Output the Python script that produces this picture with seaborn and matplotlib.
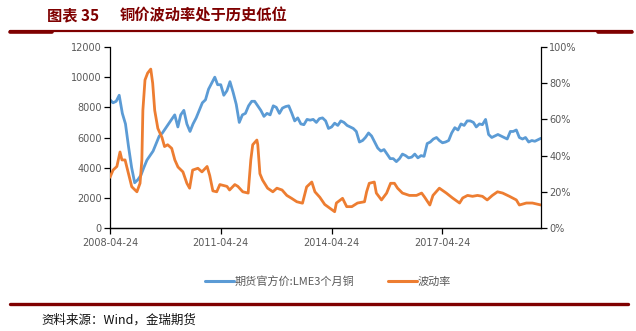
import pandas as pd
import matplotlib
matplotlib.use("Agg")
import matplotlib.pyplot as plt
import seaborn as sns
from matplotlib.lines import Line2D

sns.set_theme(style="white")
plt.rcParams['font.family'] = ['Noto Sans CJK SC', 'DejaVu Sans']

# LME 3-month copper, monthly from 2008-04-24 (USD/t)
copper_start = "2008-04-24"
copper_price = [
    8500, 8300, 8400, 8800, 7600, 6900, 5400, 4000, 3000,
    3200, 3500, 4000, 4500, 4800, 5100, 5600, 6100, 6300, 6600, 6900, 7200,
    7500, 6700, 7500, 7800, 6900, 6400, 6900, 7300, 7800, 8300, 8500, 9200,
    9600, 10000, 9500, 9500, 8800, 9100, 9700, 9000, 8200, 7000, 7500, 7600,
    8100, 8400, 8400, 8100, 7800, 7400, 7600, 7500, 8100, 8000, 7600, 7950,
    8050, 8100, 7650, 7100, 7300, 6900, 6850, 7200, 7150, 7200, 7000, 7250,
    7300, 7100, 6600, 6700, 6950, 6800, 7100, 7000, 6800, 6700, 6600, 6400,
    5700, 5800, 6000, 6300, 6100, 5700, 5300, 5100, 5200, 4900, 4600, 4600,
    4400, 4600, 4900, 4800, 4650, 4700, 4900, 4650, 4800, 4750, 5600, 5700,
    5900, 6000, 5800, 5650, 5700, 5800, 6300, 6650, 6500, 6900, 6800, 7100,
    7100, 7000, 6700, 6900, 6850, 7200, 6200, 6000, 6100, 6200, 6100, 6000,
    5900, 6400, 6400, 6500, 6000, 5900, 6000, 5700, 5800, 5750, 5850, 5950,
]

# Copper price volatility (%)
vol_dates = [
    "2008-04-24", "2008-05-24", "2008-07-01", "2008-08-01", "2008-08-20",
    "2008-09-20", "2008-10-15", "2008-11-25", "2009-01-15", "2009-02-15",
    "2009-03-05", "2009-03-15", "2009-04-05", "2009-05-01", "2009-06-01",
    "2009-06-20", "2009-07-10", "2009-08-10", "2009-09-20", "2009-10-15",
    "2009-11-15", "2009-12-25", "2010-01-25", "2010-02-25", "2010-04-15",
    "2010-05-24", "2010-06-20", "2010-07-20", "2010-09-10", "2010-10-20",
    "2010-12-10", "2011-01-05", "2011-02-05", "2011-03-15", "2011-04-15",
    "2011-06-24", "2011-07-20", "2011-09-10", "2011-10-10", "2011-11-28",
    "2012-01-20", "2012-02-15", "2012-03-05", "2012-04-15", "2012-04-24",
    "2012-05-15", "2012-06-10", "2012-07-30", "2012-09-20", "2012-10-30",
    "2012-12-20", "2013-02-05", "2013-03-24", "2013-05-15", "2013-07-10",
    "2013-08-20", "2013-10-10", "2013-11-10", "2013-12-28", "2014-02-15",
    "2014-04-05", "2014-05-24", "2014-06-10", "2014-08-10", "2014-09-20",
    "2014-11-10", "2015-01-05", "2015-03-15", "2015-04-05", "2015-05-01",
    "2015-06-20", "2015-07-10", "2015-08-30", "2015-10-20", "2015-11-28",
    "2016-01-05", "2016-02-05", "2016-03-24", "2016-06-01", "2016-08-10",
    "2016-09-30", "2016-10-30", "2016-12-20", "2017-01-20", "2017-03-24",
    "2017-06-01", "2017-08-01", "2017-10-10", "2017-11-10", "2017-12-28",
    "2018-02-15", "2018-04-05", "2018-05-24", "2018-07-10", "2018-08-30",
    "2018-10-20", "2018-12-10", "2019-02-15", "2019-04-24", "2019-05-24",
    "2019-08-01", "2019-09-30", "2019-12-24",
]
vol_pct = [
    28, 32, 34, 42, 37.6,
    37.6, 32, 22.8, 20, 24.7,
    37.6, 65, 81.8, 85.6, 87.8,
    80, 65, 55, 50, 45,
    46, 44, 37.6, 33.7, 31,
    24.7, 22, 32, 33, 31,
    34, 29, 20.5, 20, 24,
    23, 21, 24, 23, 20,
    19.3, 37.6, 46, 48.6, 46,
    30, 26.5, 22, 20, 22,
    21, 18, 16.4, 14.5, 13.7,
    22.7, 25.4, 20, 17, 13,
    11, 9, 13.8, 16.4, 11.8,
    11.8, 13.8, 14.5, 20, 24.7,
    25.4, 19.3, 15.5, 19.3, 24.7,
    24.7, 22, 19.3, 18, 18,
    19.3, 17, 12.7, 18, 22,
    19.3, 16.6, 13.8, 16.6, 18,
    17.5, 18, 17.5, 15.5, 18,
    20, 19.3, 17.5, 15.5, 12.7,
    13.8, 13.8, 12.7,
]

x_tick_dates = ["2008-04-24", "2011-04-24", "2014-04-24", "2017-04-24"]
left_ticks = [0, 2000, 4000, 6000, 8000, 10000, 12000]
right_ticks = [0, 20, 40, 60, 80, 100]

title_head = "图表 35"
title_body = "铜价波动率处于历史低位"
label_copper = "期货官方价:LME3个月铜"
label_vol = "波动率"
source_text = "资料来源：Wind，金瑞期货"

BLUE = "#5B9BD5"
ORANGE = "#ED7D31"
DARKRED = "#7F0000"
GREY = "#595959"

copper_dates = pd.date_range(start=copper_start, periods=len(copper_price),
                             freq=pd.DateOffset(months=1))
df_cu = pd.DataFrame({"date": copper_dates, "price": copper_price})
df_vol = pd.DataFrame({"date": pd.to_datetime(vol_dates), "vol": vol_pct})

W, H = 636, 331
fig = plt.figure(figsize=(W / 100, H / 100), dpi=100)
fig.patch.set_facecolor("white")

ax = fig.add_axes([110 / W, 1 - 228 / H, 431 / W, 181 / H])
ax2 = ax.twinx()

sns.lineplot(data=df_cu, x="date", y="price", ax=ax, color=BLUE,
             linewidth=2.0, legend=False)
sns.lineplot(data=df_vol, x="date", y="vol", ax=ax2, color=ORANGE,
             linewidth=2.0, legend=False)

ax.set_xlim(copper_dates[0], copper_dates[-1])
ax.set_ylim(0, 12000)
ax2.set_ylim(0, 100)

ax.set_xticks(pd.to_datetime(x_tick_dates))
ax.set_xticklabels(x_tick_dates)
ax.set_yticks(left_ticks)
ax.set_yticklabels([str(v) for v in left_ticks])
ax2.set_yticks(right_ticks)
ax2.set_yticklabels([f"{v}%" for v in right_ticks])

for a in (ax, ax2):
    a.set_xlabel("")
    a.set_ylabel("")
    a.set_facecolor("none")
    a.grid(False)
    a.spines["top"].set_visible(False)
    for s in ("left", "right", "bottom"):
        a.spines[s].set_color("#000000")
        a.spines[s].set_linewidth(0.9)
    a.tick_params(axis="both", which="major", direction="out", length=4,
                  width=0.9, color="#000000", labelsize=7, labelcolor=GREY,
                  pad=2)
    for lab in a.get_xticklabels() + a.get_yticklabels():
        lab.set_fontfamily("DejaVu Sans")
ax.tick_params(axis="y", left=True, right=False)
ax.tick_params(axis="x", bottom=True, pad=3)
ax2.tick_params(axis="y", right=True, left=False)
ax2.spines["left"].set_visible(False)
ax.spines["right"].set_visible(False)

# Legend below the plot
handles = [Line2D([], [], color=BLUE, linewidth=2.2),
           Line2D([], [], color=ORANGE, linewidth=2.2)]
fig.legend(handles, [label_copper, label_vol], loc="center",
           bbox_to_anchor=(328 / W, 1 - 281 / H), ncol=2, frameon=False,
           fontsize=8, labelcolor=GREY, handlelength=2.6, handletextpad=0.1,
           columnspacing=3.0)

# Title
fig.text(47 / W, 1 - 15 / H, title_head, color=DARKRED, fontsize=11,
         fontweight="bold", va="center", ha="left")
fig.text(120 / W, 1 - 15 / H, title_body, color=DARKRED, fontsize=11,
         fontweight="bold", va="center", ha="left")

# Header and footer rules
fig.add_artist(Line2D([10 / W, 632 / W], [1 - 31 / H, 1 - 31 / H],
                      color=DARKRED, linewidth=1.6))
fig.add_artist(Line2D([10 / W, 52 / W], [1 - 32 / H, 1 - 32 / H],
                      color=DARKRED, linewidth=2.6))
fig.add_artist(Line2D([598 / W, 632 / W], [1 - 32 / H, 1 - 32 / H],
                      color=DARKRED, linewidth=2.6))
fig.add_artist(Line2D([10 / W, 628 / W], [1 - 304 / H, 1 - 304 / H],
                      color=DARKRED, linewidth=2.4))

fig.text(41 / W, 1 - 320 / H, source_text, color="#111111", fontsize=9,
         va="center", ha="left")

fig.savefig("out.png", dpi=100, facecolor="white")
